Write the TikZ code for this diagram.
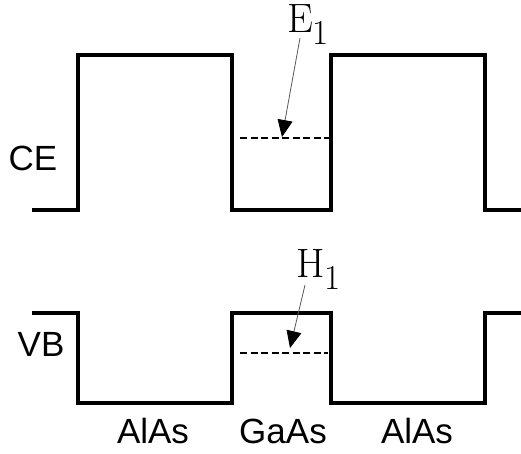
\documentclass[tikz,border=0pt]{standalone}
\usepackage{fontspec}
\setsansfont{Liberation Sans}
\usetikzlibrary{arrows.meta,positioning,calc}
\newcommand{\lvlname}[2]{#1\raisebox{-12pt}{\fontsize{35}{35}\selectfont #2}}
\tikzset{
  band/.style     ={draw=black, line width=3.3pt, line join=miter},
  lvl/.style      ={draw=black, line width=1.6pt, dash pattern=on 7pt off 3.5pt},
  arr/.style      ={-{Triangle[length=17pt,width=15pt,color=black]},
                    line width=0.8pt, draw=black!65},
  bandtxt/.style  ={font=\sffamily\fontsize{35}{35}\selectfont, inner sep=0pt},
  lvltxt/.style   ={font=\rmfamily\fontsize{41}{41}\selectfont, inner sep=0pt},
}
\begin{document}
\begin{tikzpicture}[x=1pt,y=-1pt]
  \path[use as bounding box] (0,0) rectangle (521,454);

  % conduction band
  \draw[band] (32,210) -| (78,55) -| (232,210) -| (331,55) -| (485,210) -- (521,210);
  % valence band
  \draw[band] (32,313) -| (78,403) -| (232,313) -| (331,403) -| (485,313) -- (521,313);

  % confined levels
  \coordinate (e1l) at (240,138);
  \coordinate (e1r) at (330,138);
  \coordinate (h1l) at (240,353);
  \coordinate (h1r) at (328,353);
  \draw[lvl] (e1l) -- (e1r);
  \draw[lvl] (h1l) -- (h1r);
  \coordinate (e1pt) at (282,137);
  \coordinate (h1pt) at (290,348);

  \node[lvltxt,anchor=base west] (e1) at (287,33) {\lvlname{E}{1}};
  \node[lvltxt,anchor=base west] (h1) at (296,277) {\lvlname{H}{1}};
  \draw[arr] ($(e1.base west)+(13,5)$) -- (e1pt);
  \draw[arr] ($(h1.base west)+(9,8)$) -- (h1pt);

  \node[bandtxt] (ce) at (33,158) {CE};
  \node[bandtxt] (vb) at (41,344) {VB};

  \node[bandtxt,anchor=base] (m1) at (153,443) {AlAs};
  \node[bandtxt,anchor=base] (m2) at (283,443) {GaAs};
  \node[bandtxt,anchor=base] (m3) at (417,443) {AlAs};
\end{tikzpicture}
\end{document}
